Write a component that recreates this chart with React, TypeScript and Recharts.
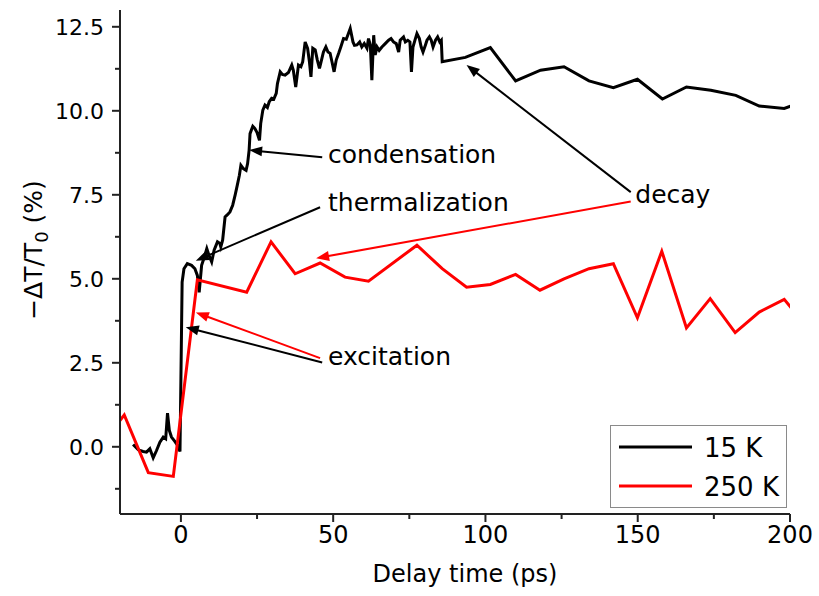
import React from "react";
import { LineChart, Line, XAxis, YAxis, ReferenceLine, ReferenceDot, Legend } from "recharts";

// 15 K trace (delay in ps, -dT/T0 in %)
const delay15K = [
  -15.7, -14.0, -12.4, -11.3, -10.2, -9.1, -8.0, -6.9, -5.8, -5.0, -4.4, -3.8, -3.1, -2.0, -1.1, -0.3,
  0.4, 1.0, 2.1, 3.5, 4.6, 5.4, 6.0, 6.8, 7.7, 8.5, 9.2, 10.1, 10.9, 12.0, 12.8, 13.1, 13.7, 14.5, 15.2,
  16.1, 17.0, 17.8, 18.5, 19.2, 19.7, 20.5, 21.4, 21.9, 22.4, 22.7, 23.6, 24.3, 25.0, 25.8, 26.2, 26.9,
  27.6, 28.4, 29.0, 29.8, 30.5, 31.3, 31.7, 32.6, 33.3, 34.2, 35.3, 36.4, 36.9, 37.7, 38.6, 39.4, 40.0,
  40.8, 41.6, 42.2, 42.7, 43.3, 44.1, 44.8, 45.5, 46.3, 46.8, 47.6, 48.3, 49.0, 49.6, 50.3, 51.0, 51.8,
  52.5, 53.4, 54.3, 55.0, 55.6, 56.5, 57.0, 57.8, 58.7, 59.4, 60.2, 61.1, 61.6, 62.2, 62.7, 63.3, 63.8,
  64.4, 65.1, 66.0, 67.1, 68.2, 69.0, 69.8, 70.7, 71.5, 72.0, 73.1, 73.7, 74.5, 75.2, 75.7, 76.2, 77.0,
  77.5, 78.3, 78.9, 79.5, 80.3, 80.8, 81.6, 82.2, 82.8, 83.6, 84.3, 85.0, 85.5, 85.8,
  93.4, 101.6, 109.9, 118.1, 125.8, 134.0, 142.0, 149.9, 158.1, 166.0, 174.0, 182.2, 189.9, 198.1, 206.2,
];
const signal15K = [
  0.07, -0.09, -0.14, -0.16, -0.06, -0.33, -0.11, 0.14, 0.29, 0.24, 1.0, 0.49, 0.29, 0.16, 0.04, -0.14,
  4.9, 5.3, 5.45, 5.4, 5.3, 5.1, 4.6, 5.4, 5.65, 5.9, 5.7, 5.5, 5.85, 6.1, 6.05, 5.95, 6.15, 6.84, 6.9,
  6.99, 7.19, 7.49, 7.78, 8.08, 8.38, 8.28, 8.23, 8.43, 8.83, 9.32, 9.54, 9.47, 9.35, 9.12, 9.62, 10.02,
  10.17, 10.1, 10.27, 10.37, 10.35, 10.52, 10.81, 11.16, 11.08, 11.06, 11.14, 11.36, 11.21, 10.71, 11.36, 11.31, 11.46,
  12.05, 11.86, 11.46, 11.01, 11.86, 11.81, 11.51, 11.26, 11.56, 11.75, 11.9, 11.75, 11.71, 11.46, 11.16, 11.51, 11.71,
  11.9, 12.15, 12.13, 12.3, 12.45, 12.05, 11.95, 11.96, 12.05, 11.9, 12.0, 11.86, 12.15, 11.96, 10.91, 12.25, 11.66,
  11.9, 11.8, 11.9, 12.0, 12.1, 12.15, 12.05, 12.0, 11.75, 12.1, 12.2, 12.05, 12.1, 12.05, 11.16, 11.9, 12.15,
  12.3, 12.15, 11.9, 11.75, 11.96, 12.1, 12.2, 12.1, 11.9, 12.1, 12.2, 12.05, 12.1, 11.46,
  11.59, 11.88, 10.89, 11.21, 11.31, 10.89, 10.69, 10.94, 10.35, 10.71, 10.61, 10.46, 10.14, 10.07, 10.33,
];

// 250 K trace
const delay250K = [
  -21.7, -18.6, -10.7, -2.5, 5.4, 21.6, 29.6, 37.5, 45.7, 53.9, 61.6, 77.5, 85.8, 93.8, 101.6, 109.9,
  117.9, 125.8, 134.0, 142.0, 149.9, 157.9, 166.0, 173.8, 182.0, 189.9, 198.1, 206.2,
];
const signal250K = [
  0.58, 0.95, -0.77, -0.88, 4.97, 4.6, 6.1, 5.15, 5.47, 5.05, 4.93, 6.0, 5.3, 4.75, 4.83, 5.13,
  4.66, 5.0, 5.3, 5.45, 3.84, 5.82, 3.54, 4.41, 3.4, 4.01, 4.39, 3.5,
];

const xTicks = [0, 25, 50, 75, 100, 125, 150, 175, 200];
const xMajor = [0, 50, 100, 150, 200];
const yTicks = [-1.25, 0, 1.25, 2.5, 3.75, 5, 6.25, 7.5, 8.75, 10, 11.25, 12.5];
const yMajor = [0, 2.5, 5, 7.5, 10, 12.5];

const annotationTexts = [
  { text: "condensation", t: 48.3, v: 8.45 },
  { text: "thermalization", t: 48.3, v: 7.03 },
  { text: "excitation", t: 48.3, v: 2.43 },
  { text: "decay", t: 149.2, v: 7.25 },
];

// tail -> tip
const annotationArrows = [
  { from: [46.4, 8.62], to: [22.4, 8.83], color: "#000000" },
  { from: [45.7, 7.13], to: [4.9, 5.54], color: "#000000" },
  { from: [46.4, 2.51], to: [1.6, 3.56], color: "#000000" },
  { from: [45.7, 2.64], to: [4.9, 4.0], color: "#ff0000" },
  { from: [147.7, 7.58], to: [93.8, 11.36], color: "#000000" },
  { from: [147.7, 7.3], to: [44.4, 5.61], color: "#ff0000" },
];

const data15K = delay15K.map((t, i) => ({ t, v: signal15K[i] }));
const data250K = delay250K.map((t, i) => ({ t, v: signal250K[i] }));

const FONT = "'DejaVu Sans', sans-serif";
const AXIS = "#222";

function YTick({ x, y, payload }: any) {
  const major = yMajor.includes(payload.value);
  return (
    <g>
      <line x1={x} x2={x - (major ? 8 : 5)} y1={y} y2={y} stroke={AXIS} strokeWidth={2} />
      {major && (
        <text x={x - 16} y={y} dy="0.38em" textAnchor="end" fontFamily={FONT} fontSize={22} fill="#000">
          {payload.value.toFixed(1)}
        </text>
      )}
    </g>
  );
}

function XTick({ x, y, payload }: any) {
  const major = xMajor.includes(payload.value);
  return (
    <g>
      <line x1={x} x2={x} y1={y} y2={y + (major ? 8 : 5)} stroke={AXIS} strokeWidth={2} />
      {major && (
        <text x={x} y={y + 29} textAnchor="middle" fontFamily={FONT} fontSize={24} fill="#000">
          {payload.value}
        </text>
      )}
    </g>
  );
}

function Arrow({ x1, y1, x2, y2, stroke }: any) {
  const dx = x2 - x1;
  const dy = y2 - y1;
  const len = Math.hypot(dx, dy) || 1;
  const ux = dx / len;
  const uy = dy / len;
  const hl = 13;
  const hw = 5;
  const bx = x2 - ux * hl;
  const by = y2 - uy * hl;
  const pts = `${x2},${y2} ${bx - uy * hw},${by + ux * hw} ${bx + uy * hw},${by - ux * hw}`;
  return (
    <g>
      <line x1={x1} y1={y1} x2={bx + ux * 2} y2={by + uy * 2} stroke={stroke} strokeWidth={2} />
      <polygon points={pts} fill={stroke} />
    </g>
  );
}

function LegendBox({ payload }: any) {
  const items = payload || [];
  return (
    <div style={{ width: 177, height: 83, border: "1px solid #8a8a8a", boxSizing: "border-box", background: "#fff" }}>
      <svg width={175} height={81}>
        {items.map((it: any, i: number) => (
          <g key={it.value}>
            <line x1={8} x2={81} y1={21 + i * 39} y2={21 + i * 39} stroke={it.color} strokeWidth={3} />
            <text x={93} y={31 + i * 39} fontFamily={FONT} fontSize={26} fill="#000">
              {it.value}
            </text>
          </g>
        ))}
      </svg>
    </div>
  );
}

export default function App() {
  return (
    <div style={{ position: "absolute", left: 0, top: 0, width: 819, height: 596, background: "#fff" }}>
      <LineChart width={819} height={596} margin={{ top: 10, right: 29, bottom: 0, left: 0 }}>
        <XAxis
          type="number"
          dataKey="t"
          domain={[-20, 200]}
          allowDataOverflow
          ticks={xTicks}
          interval={0}
          height={82}
          tickSize={0}
          tickMargin={0}
          tickLine={false}
          tick={<XTick />}
          axisLine={{ stroke: AXIS, strokeWidth: 2 }}
          label={{
            content: () => (
              <text x={465} y={582} textAnchor="middle" fontFamily={FONT} fontSize={24} fill="#000">
                Delay time (ps)
              </text>
            ),
          }}
        />
        <YAxis
          type="number"
          domain={[-2, 13]}
          allowDataOverflow
          ticks={yTicks}
          interval={0}
          width={120}
          tickSize={0}
          tickMargin={0}
          tickLine={false}
          tick={<YTick />}
          axisLine={{ stroke: AXIS, strokeWidth: 2 }}
          label={{
            content: () => (
              <text
                x={0}
                y={0}
                transform="translate(42 250) rotate(-90)"
                textAnchor="middle"
                fontFamily={FONT}
                fontSize={25}
                fill="#000"
              >
                <tspan>−ΔT/T</tspan>
                <tspan dy={6} fontSize={18}>0</tspan>
                <tspan dy={-6}> (%)</tspan>
              </text>
            ),
          }}
        />
        <Legend
          layout="vertical"
          align="center"
          verticalAlign="middle"
          content={<LegendBox />}
          wrapperStyle={{ left: 610, top: 425, width: 177, height: 83 }}
        />
        <Line
          data={data15K}
          dataKey="v"
          name="15 K"
          type="linear"
          stroke="#000000"
          strokeWidth={3}
          dot={false}
          isAnimationActive={false}
        />
        <Line
          data={data250K}
          dataKey="v"
          name="250 K"
          type="linear"
          stroke="#ff0000"
          strokeWidth={3}
          dot={false}
          isAnimationActive={false}
        />
        {annotationArrows.map((a, i) => (
          <ReferenceLine
            key={`arrow-${i}`}
            segment={[
              { x: a.from[0], y: a.from[1] },
              { x: a.to[0], y: a.to[1] },
            ]}
            stroke={a.color}
            shape={(p: any) => <Arrow {...p} stroke={a.color} />}
          />
        ))}
        {annotationTexts.map((a) => (
          <ReferenceDot
            key={a.text}
            x={a.t}
            y={a.v}
            r={0}
            shape={(p: any) => (
              <text x={p.cx} y={p.cy} fontFamily={FONT} fontSize={25} fill="#000">
                {a.text}
              </text>
            )}
          />
        ))}
      </LineChart>
    </div>
  );
}
